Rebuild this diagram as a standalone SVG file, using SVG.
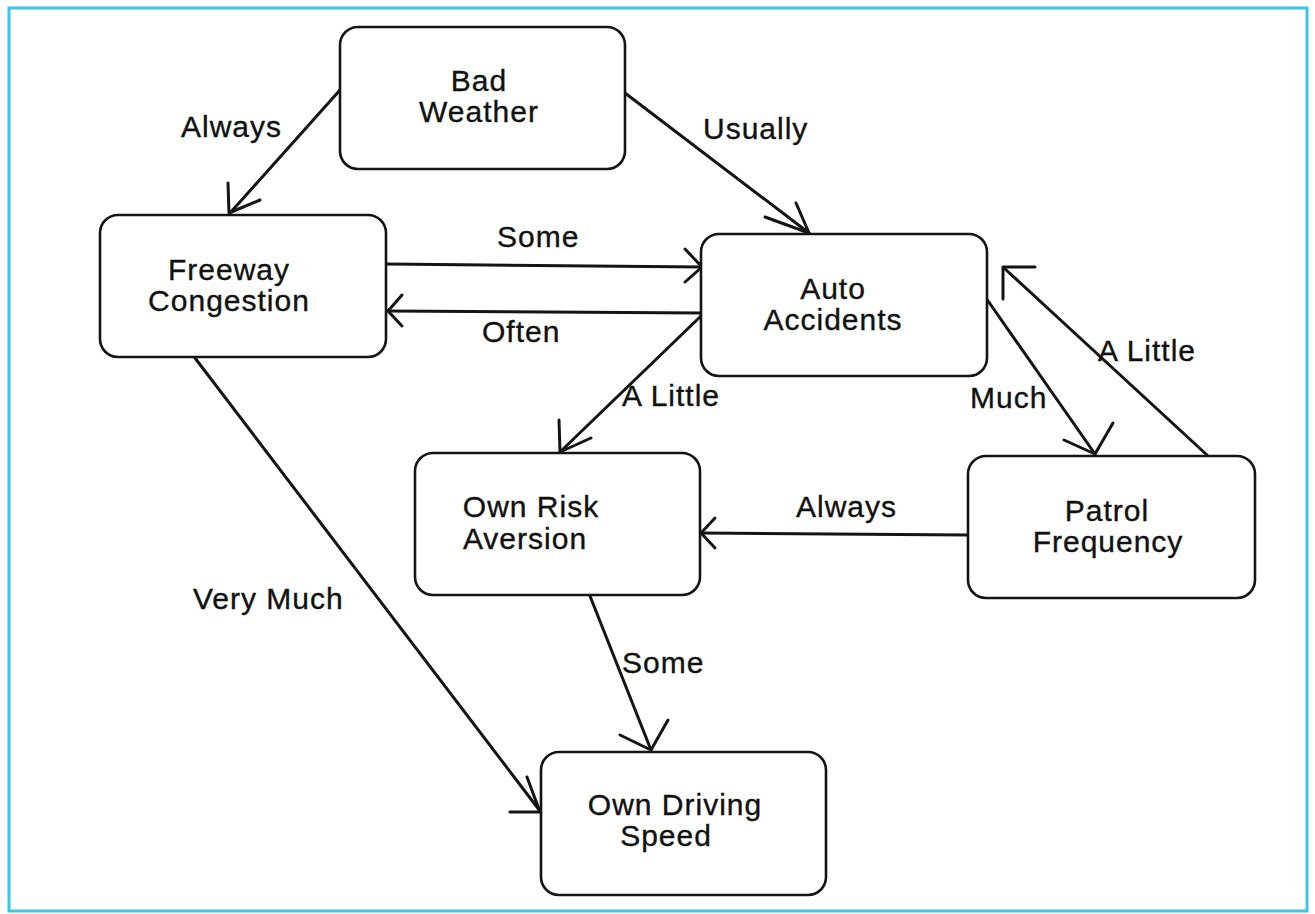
<svg xmlns="http://www.w3.org/2000/svg" width="1315" height="914" viewBox="0 0 1315 914">
  <style>
    .frame { fill: none; stroke: #3cc6e6; stroke-width: 3; }
    .node rect { fill: #ffffff; stroke: #141414; stroke-width: 2.6; }
    .node text, .label { font-family: "Liberation Sans", Arial, sans-serif; font-size: 30px; letter-spacing: 1px; fill: #111111; stroke: #111111; stroke-width: 0.35; }
    .node text { text-anchor: middle; }
    .edge { fill: none; stroke: #141414; stroke-width: 3; stroke-linecap: round; stroke-linejoin: round; }
  </style>

  <rect width="1315" height="914" fill="#ffffff"/>
  <rect class="frame" x="9" y="8" width="1298" height="903"/>

  <!-- connectors: shaft plus open V head -->
  <g id="connectors">
    <!-- Bad Weather -> Freeway Congestion -->
    <path class="edge" d="M340,90 L230,213"/>
    <path class="edge" d="M228,183 L229,213 L260,200"/>
    <!-- Bad Weather -> Auto Accidents -->
    <path class="edge" d="M625,93 L809,233"/>
    <path class="edge" d="M765,217 L809,233 L796,203"/>
    <!-- Freeway Congestion -> Auto Accidents -->
    <path class="edge" d="M387,264 L702,267"/>
    <path class="edge" d="M685,249 L702,267 L685,282"/>
    <!-- Auto Accidents -> Freeway Congestion -->
    <path class="edge" d="M701,313 L388,311"/>
    <path class="edge" d="M402,295 L388,311 L402,326"/>
    <!-- Auto Accidents -> Own Risk Aversion -->
    <path class="edge" d="M701,316 L560,452"/>
    <path class="edge" d="M559,420 L560,452 L591,438"/>
    <!-- Auto Accidents -> Patrol Frequency -->
    <path class="edge" d="M986,298 L1095,454"/>
    <path class="edge" d="M1064,440 L1095,454 L1113,423"/>
    <!-- Patrol Frequency -> Auto Accidents -->
    <path class="edge" d="M1207,455 L1004,268"/>
    <path class="edge" d="M1035,267 L1003,267 L1003,299"/>
    <!-- Patrol Frequency -> Own Risk Aversion -->
    <path class="edge" d="M967,535 L701,533"/>
    <path class="edge" d="M715,518 L701,533 L715,548"/>
    <!-- Own Risk Aversion -> Own Driving Speed -->
    <path class="edge" d="M590,596 L651,750"/>
    <path class="edge" d="M620,735 L651,750 L668,720"/>
    <!-- Freeway Congestion -> Own Driving Speed -->
    <path class="edge" d="M195,358 L540,811"/>
    <path class="edge" d="M510,812 L540,812 L527,777"/>
  </g>

  <g id="edge-labels">
    <text class="label" x="181" y="137">Always</text>
    <text class="label" x="703" y="139">Usually</text>
    <text class="label" x="497" y="247">Some</text>
    <text class="label" x="482" y="342">Often</text>
    <text class="label" x="622" y="406">A Little</text>
    <text class="label" x="970" y="408">Much</text>
    <text class="label" x="1098" y="361">A Little</text>
    <text class="label" x="796" y="517">Always</text>
    <text class="label" x="193" y="609">Very Much</text>
    <text class="label" x="622" y="673">Some</text>
  </g>

  <g id="bad-weather" class="node">
    <rect x="340" y="27" width="285" height="142" rx="18"/>
    <text x="479" y="91">Bad</text>
    <text x="479" y="122">Weather</text>
  </g>

  <g id="freeway-congestion" class="node">
    <rect x="100" y="215" width="286" height="142" rx="18"/>
    <text x="229" y="280">Freeway</text>
    <text x="229" y="311">Congestion</text>
  </g>

  <g id="auto-accidents" class="node">
    <rect x="701" y="234" width="286" height="142" rx="18"/>
    <text x="833" y="299">Auto</text>
    <text x="833" y="330">Accidents</text>
  </g>

  <g id="own-risk-aversion" class="node">
    <rect x="415" y="453" width="285" height="142" rx="18"/>
    <text x="531" y="517">Own Risk</text>
    <text x="525" y="549">Aversion</text>
  </g>

  <g id="patrol-frequency" class="node">
    <rect x="968" y="456" width="287" height="142" rx="18"/>
    <text x="1107" y="521">Patrol</text>
    <text x="1108" y="552">Frequency</text>
  </g>

  <g id="own-driving-speed" class="node">
    <rect x="541" y="752" width="285" height="143" rx="18"/>
    <text x="675" y="815">Own Driving</text>
    <text x="666" y="846">Speed</text>
  </g>
</svg>
